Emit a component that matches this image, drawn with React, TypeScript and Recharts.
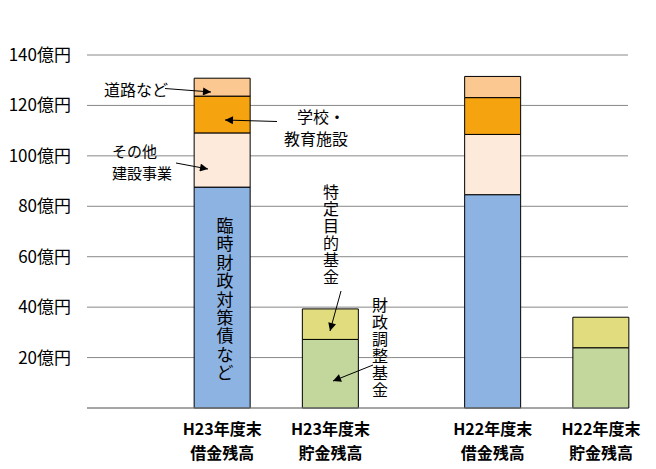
import React from 'react';
import { BarChart, Bar, XAxis, YAxis, CartesianGrid } from 'recharts';

const categories = ['H23年度末\n借金残高', 'H23年度末\n貯金残高', 'H22年度末\n借金残高', 'H22年度末\n貯金残高'];
const slots = [0, 2, 5, 7];

const rinji = [87.6, 0, 84.6, 0];
const sonota = [21.5, 0, 23.9, 0];
const gakko = [14.6, 0, 14.6, 0];
const doro = [7.1, 0, 8.4, 0];
const zaisei = [0, 27.2, 0, 23.9];
const tokutei = [0, 12.1, 0, 12.1];

const yTicks = [0, 20, 40, 60, 80, 100, 120, 140];

const data = categories.map((name, i) => ({
  name,
  slot: slots[i],
  rinji: rinji[i],
  sonota: sonota[i],
  gakko: gakko[i],
  doro: doro[i],
  zaisei: zaisei[i],
  tokutei: tokutei[i]
}));

const FONT = '"Noto Sans CJK JP", "Noto Sans", sans-serif';

const CategoryTick = (props: any) => {
  const { x, y, payload } = props;
  const idx = slots.indexOf(payload.value);
  if (idx < 0) return null;
  const lines = categories[idx].split('\n');
  return (
    <text
      x={x}
      y={y + 19}
      textAnchor="middle"
      fontSize={16}
      fontWeight="bold"
      fontFamily={FONT}
      fill="#000"
    >
      {lines.map((line, i) => (
        <tspan key={i} x={x} dy={i === 0 ? 0 : 23.5}>
          {line}
        </tspan>
      ))}
    </text>
  );
};

// vertical (tategaki) label, one glyph per row
const VText = ({ x, y, text, pitch, size }: { x: number; y: number; text: string; pitch: number; size: number }) => (
  <text x={x} textAnchor="middle" fontSize={size} fontFamily={FONT} fill="#000">
    {text.split('').map((ch, i) => (
      <tspan key={i} x={x} y={y + i * pitch}>
        {ch}
      </tspan>
    ))}
  </text>
);

const Arrow = ({ x1, y1, x2, y2 }: { x1: number; y1: number; x2: number; y2: number }) => (
  <line x1={x1} y1={y1} x2={x2} y2={y2} stroke="#000" strokeWidth={1} markerEnd="url(#arrowHead)" />
);

const App = () => {
  return (
    <div style={{ position: 'absolute', left: 0, top: 0, width: 656, height: 469, background: '#fff' }}>
      <BarChart
        width={656}
        height={469}
        data={data}
        margin={{ top: 55, right: 28, bottom: 11, left: 0 }}
      >
        <CartesianGrid vertical={false} stroke="#888" />
        <XAxis
          type="number"
          dataKey="slot"
          domain={[-2.5, 7.5]}
          ticks={slots}
          interval={0}
          height={50}
          axisLine={{ stroke: '#888' }}
          tickLine={false}
          tick={<CategoryTick />}
        />
        <YAxis
          type="number"
          domain={[0, 140]}
          ticks={yTicks}
          interval={0}
          width={87}
          axisLine={false}
          tickLine={false}
          tickMargin={10}
          tick={{ fill: '#000', fontSize: 17, fontFamily: FONT }}
          tickFormatter={(v: number) => (v === 0 ? '' : `${v}億円`)}
        />
        <Bar dataKey="rinji" stackId="a" fill="#8DB3E2" stroke="#000" barSize={56} isAnimationActive={false} />
        <Bar dataKey="sonota" stackId="a" fill="#FDEADA" stroke="#000" barSize={56} isAnimationActive={false} />
        <Bar dataKey="gakko" stackId="a" fill="#F5A30F" stroke="#000" barSize={56} isAnimationActive={false} />
        <Bar dataKey="doro" stackId="a" fill="#FAC890" stroke="#000" barSize={56} isAnimationActive={false} />
        <Bar dataKey="zaisei" stackId="a" fill="#C3D69B" stroke="#000" barSize={56} isAnimationActive={false} />
        <Bar dataKey="tokutei" stackId="a" fill="#E1DD7F" stroke="#000" barSize={56} isAnimationActive={false} />
      </BarChart>
      <svg
        width={656}
        height={469}
        style={{ position: 'absolute', left: 0, top: 0, pointerEvents: 'none' }}
      >
        <defs>
          <marker id="arrowHead" viewBox="0 0 10 10" refX="10" refY="5" markerWidth="10" markerHeight="8" markerUnits="userSpaceOnUse" orient="auto">
            <path d="M0,0 L10,5 L0,10 z" fill="#000" />
          </marker>
        </defs>
        <g fontFamily={FONT} fontSize={16} fill="#000">
          <text x={104} y={96}>道路など</text>
          <Arrow x1={165} y1={88.5} x2={211} y2={92} />

          <text x={297} y={123}>学校・</text>
          <text x={284} y={145}>教育施設</text>
          <Arrow x1={277} y1={121.5} x2={225} y2={120} />

          <text x={112} y={157} fontSize={15}>その他</text>
          <text x={112} y={179} fontSize={15}>建設事業</text>
          <Arrow x1={176} y1={163} x2={208} y2={169} />
        </g>
        <VText x={225} y={232} text="臨時財政対策債など" pitch={18.4} size={17} />
        <VText x={331} y={198} text="特定目的基金" pitch={17} size={16} />
        <Arrow x1={341} y1={291} x2={330} y2={331} />
        <VText x={380} y={311} text="財政調整基金" pitch={17} size={16} />
        <Arrow x1={373} y1={365} x2={333} y2={381} />
      </svg>
    </div>
  );
};

export default App;
